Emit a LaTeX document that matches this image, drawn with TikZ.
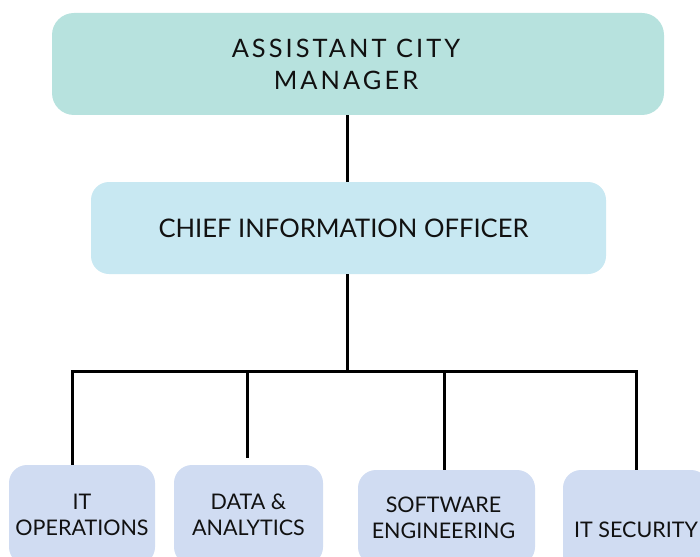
\documentclass[tikz,border=0pt]{standalone}
\usepackage{fontspec}
\setmainfont{Lato}
\newfontfamily\spacedfont[LetterSpace=12]{Lato}
\definecolor{mgrteal}{HTML}{B7E2DE}
\definecolor{cioblue}{HTML}{C8E8F2}
\definecolor{unitblue}{HTML}{D0DCF2}
\definecolor{inkgrey}{HTML}{111111}

\begin{document}
\begin{tikzpicture}[x=1pt, y=-1pt,
    orgbox/.style={draw=none, rounded corners=18pt, align=center, inner sep=0pt, text=inkgrey},
    unitbox/.style={orgbox, fill=unitblue, font=\fontsize{21.5}{26}\selectfont},
    wire/.style={line width=3pt, black}]
  \clip (0,0) rectangle (700,556);
  % top two levels
  \node [orgbox, fill=mgrteal, rounded corners=22pt, minimum width=612pt, minimum height=102pt,
         font=\spacedfont\fontsize{25.4}{32}\selectfont] (acm) at (358,64)
         {\hspace*{-24pt}ASSISTANT CITY\\\hspace*{-24pt}MANAGER};
  \node [orgbox, fill=cioblue, minimum width=515pt, minimum height=92pt,
         font=\fontsize{25.6}{28}\selectfont] (cio) at (348.5,228)
         {\hspace*{-10pt}CHIEF INFORMATION OFFICER};
  % divisions (cut off by the lower edge)
  \node [unitbox, minimum width=146pt, minimum height=100pt] (itops) at (82,515) {IT\\OPERATIONS};
  \node [unitbox, minimum width=149pt, minimum height=100pt] (data) at (248.5,515) {DATA \&\\ANALYTICS};
  \node [unitbox, minimum width=177pt, minimum height=95pt] (soft) at (446.5,517.5)
         {\hspace*{-6pt}SOFTWARE\\\hspace*{-6pt}ENGINEERING};
  \node [unitbox, minimum width=146pt, minimum height=120pt] (sec) at (636,530) {IT SECURITY};
  % connectors
  \coordinate (bus) at (347,371);
  \coordinate (busL) at (72,371);
  \coordinate (busR) at (636,371);
  \coordinate (dropA) at (247,371);
  \coordinate (dropB) at (444,371);
  \coordinate (dataend) at (247,458);
  \draw [wire] (cio.north -| bus) -- (bus |- acm.south);
  \draw [wire] (cio.south -| bus) -- (bus);
  \draw [wire, line cap=rect] (busL) -- (busR);
  \draw [wire] (busL) -- (busL |- itops.north);
  \draw [wire] (dropA) -- (dataend);
  \draw [wire] (dropB) -- (dropB |- soft.north);
  \draw [wire] (busR) -- (busR |- sec.north);
\end{tikzpicture}
\end{document}
